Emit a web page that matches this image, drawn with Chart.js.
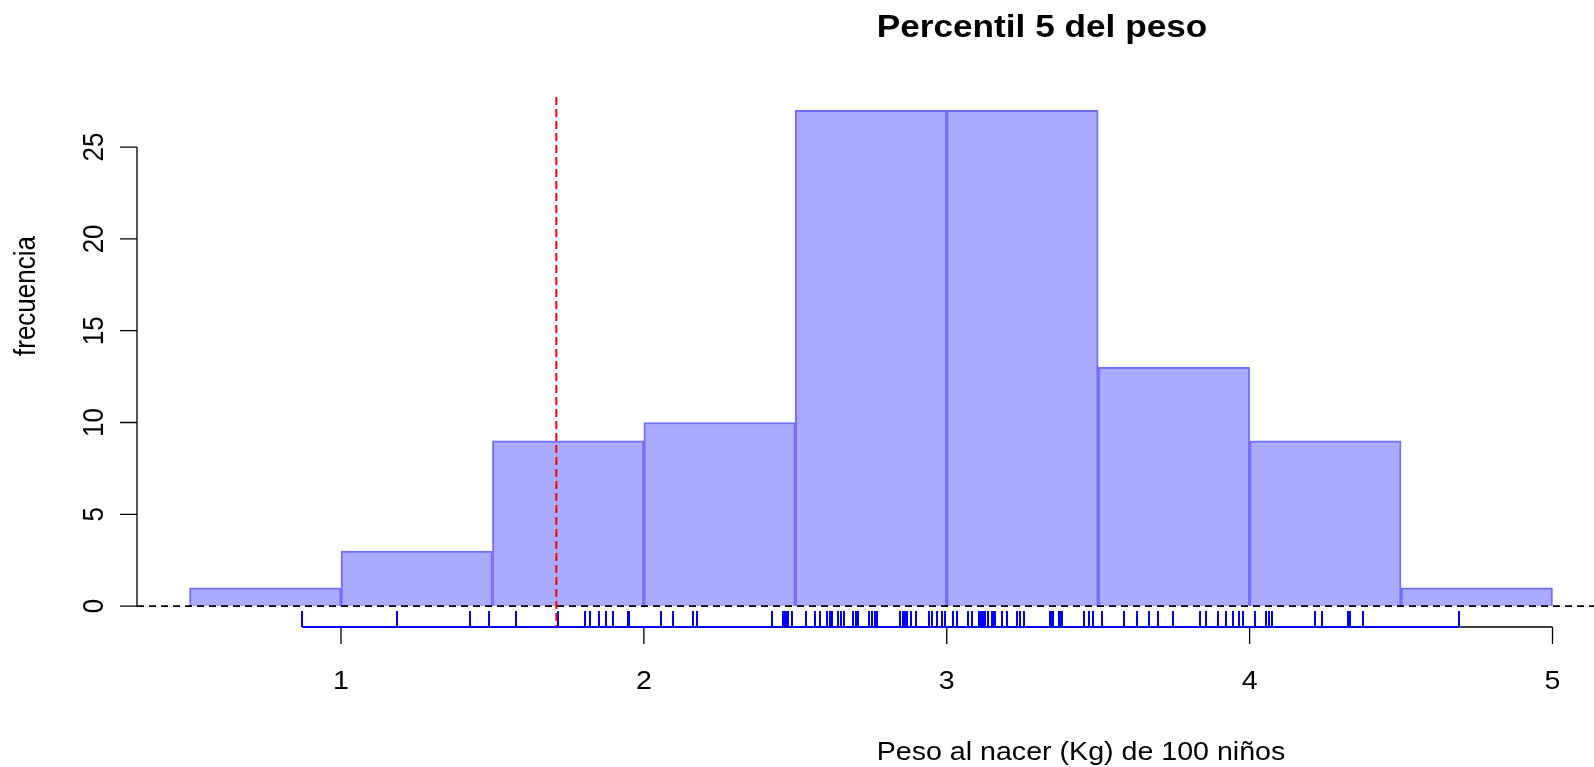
<!DOCTYPE html>
<html>
<head>
<meta charset="utf-8">
<script src="https://cdn.jsdelivr.net/npm/chart.js@4"></script>
<style>
  html, body { margin: 0; padding: 0; background: #fff; }
  canvas { display: block; }
</style>
</head>
<body>
<canvas id="histCanvas" width="1594" height="767"></canvas>
<script>
// histogram bins and counts
const breaks = [0.5, 1, 1.5, 2, 2.5, 3, 3.5, 4, 4.5, 5];
const counts = [1, 3, 9, 10, 27, 27, 13, 9, 1];

// individual weights (rug marks)
const pesos = [
  0.872,
  1.186, 1.427, 1.490,
  1.577, 1.715, 1.805, 1.822, 1.853, 1.875, 1.897, 1.946, 1.952,
  2.056, 2.095, 2.163, 2.174, 2.424, 2.460, 2.466, 2.468, 2.477, 2.490,
  2.534, 2.565, 2.581, 2.605, 2.613, 2.621, 2.642, 2.650, 2.662, 2.691,
  2.700, 2.707, 2.743, 2.752, 2.763, 2.771, 2.845, 2.854, 2.862, 2.870,
  2.882, 2.897, 2.941, 2.952, 2.967, 2.983, 2.994,
  3.021, 3.034, 3.071, 3.082, 3.107, 3.113, 3.119, 3.126, 3.137, 3.149,
  3.154, 3.159, 3.181, 3.183, 3.198, 3.231, 3.242, 3.255, 3.341, 3.345,
  3.350, 3.371, 3.375, 3.379, 3.454, 3.469, 3.484,
  3.511, 3.585, 3.627, 3.669, 3.696, 3.746, 3.836, 3.855, 3.896, 3.922,
  3.946, 3.966, 3.977,
  4.018, 4.053, 4.065, 4.073, 4.216, 4.238, 4.326, 4.332, 4.375,
  4.690
];

const percentil5 = 1.711;

const xTicks = [1, 2, 3, 4, 5];
const yTicks = [0, 5, 10, 15, 20, 25];

const titulo = 'Percentil 5 del peso';
const xTitulo = 'Peso al nacer (Kg) de 100 niños';
const yTitulo = 'frecuencia';

const FONT = '"Liberation Sans", Arial, Helvetica, sans-serif';
const SX = 1.1; // text looks a bit wide in the original

function stretchedText(ctx, txt, x, y, font, rot) {
  ctx.save();
  ctx.translate(x, y);
  ctx.scale(SX, 1);
  if (rot) ctx.rotate(rot);
  ctx.font = font;
  ctx.textAlign = 'center';
  ctx.textBaseline = 'middle';
  ctx.fillText(txt, 0, 0);
  ctx.restore();
}

const rAxes = {
  id: 'rAxes',
  afterDatasetsDraw(chart) {
    const { ctx, chartArea: ca } = chart;
    const xs = chart.scales.x, ys = chart.scales.y;
    const y0 = ys.getPixelForValue(0);

    ctx.save();
    // dashed zero line
    ctx.strokeStyle = '#000';
    ctx.lineWidth = 1.8;
    ctx.setLineDash([7, 5]);
    ctx.beginPath();
    ctx.moveTo(ca.left, y0);
    ctx.lineTo(ca.right, y0);
    ctx.stroke();
    ctx.setLineDash([]);

    // y axis
    ctx.lineWidth = 1.3;
    ctx.beginPath();
    ctx.moveTo(ca.left, ys.getPixelForValue(yTicks[0]));
    ctx.lineTo(ca.left, ys.getPixelForValue(yTicks[yTicks.length - 1]));
    yTicks.forEach(t => {
      const py = ys.getPixelForValue(t);
      ctx.moveTo(ca.left, py);
      ctx.lineTo(ca.left - 17, py);
    });
    ctx.stroke();

    // x axis
    const yb = ca.bottom;
    ctx.beginPath();
    ctx.moveTo(xs.getPixelForValue(xTicks[0]), yb);
    ctx.lineTo(xs.getPixelForValue(xTicks[xTicks.length - 1]), yb);
    xTicks.forEach(t => {
      const px = xs.getPixelForValue(t);
      ctx.moveTo(px, yb);
      ctx.lineTo(px, yb + 17);
    });
    ctx.stroke();

    // rug
    ctx.strokeStyle = '#0000FF';
    ctx.lineWidth = 2;
    ctx.beginPath();
    ctx.moveTo(xs.getPixelForValue(Math.min(...pesos)), yb);
    ctx.lineTo(xs.getPixelForValue(Math.max(...pesos)), yb);
    pesos.forEach(v => {
      const px = Math.round(xs.getPixelForValue(v));
      ctx.moveTo(px, yb);
      ctx.lineTo(px, yb - 16);
    });
    ctx.stroke();

    // percentile line
    ctx.strokeStyle = '#FF0000';
    ctx.lineWidth = 2;
    ctx.setLineDash([8, 4]);
    const pp = xs.getPixelForValue(percentil5);
    ctx.beginPath();
    ctx.moveTo(pp, ca.top);
    ctx.lineTo(pp, ca.bottom);
    ctx.stroke();
    ctx.setLineDash([]);

    // labels
    ctx.fillStyle = '#000';
    const f = '26px ' + FONT;
    xTicks.forEach(t => stretchedText(ctx, String(t), xs.getPixelForValue(t), 682, f));
    yTicks.forEach(t => stretchedText(ctx, String(t), 95, ys.getPixelForValue(t), f, -Math.PI / 2));
    stretchedText(ctx, xTitulo, 1081, 753, f);
    stretchedText(ctx, yTitulo, 27.5, 296, f, -Math.PI / 2);
    stretchedText(ctx, titulo, 1042, 28, 'bold 32px ' + FONT);
    ctx.restore();
  }
};

const barData = counts.map((c, i) => ({ x: (breaks[i] + breaks[i + 1]) / 2, y: c }));

new Chart(document.getElementById('histCanvas').getContext('2d'), {
  type: 'bar',
  data: {
    datasets: [{
      data: barData,
      backgroundColor: '#AAAAFF',
      borderColor: '#7070FF',
      borderWidth: 2,
      barPercentage: 1,
      categoryPercentage: 1
    }]
  },
  options: {
    responsive: false,
    animation: false,
    devicePixelRatio: 1,
    layout: { padding: { left: 137, right: 0, top: 97, bottom: 140 } },
    scales: {
      x: { type: 'linear', min: 0.3265, max: 5.137, offset: false, display: false },
      y: { type: 'linear', min: -1.14, max: 27.73, display: false }
    },
    plugins: {
      legend: { display: false },
      tooltip: { enabled: false }
    }
  },
  plugins: [rAxes]
});
</script>
</body>
</html>
